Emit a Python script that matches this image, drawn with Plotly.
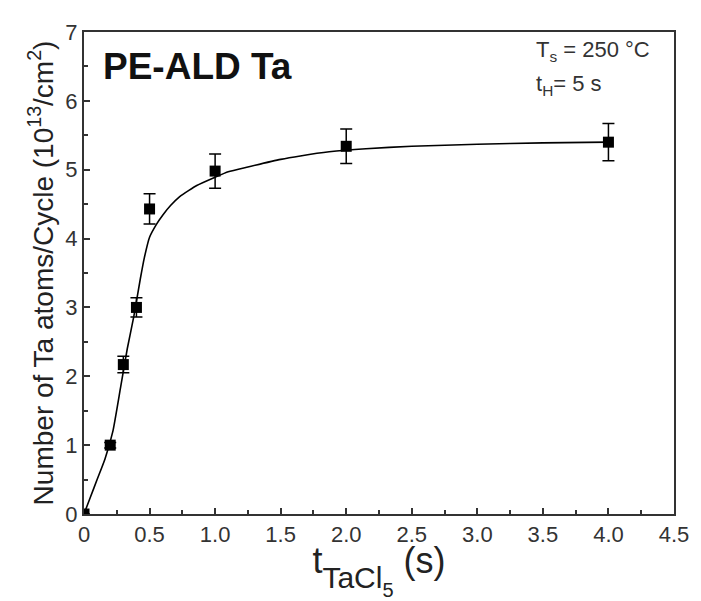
import plotly.graph_objects as go

# measured data
t_meas = [0, 0.2, 0.3, 0.4, 0.5, 1.0, 2.0, 4.0]
n_meas = [0, 1.0, 2.17, 3.0, 4.43, 4.98, 5.34, 5.40]
n_err = [0, 0.04, 0.12, 0.14, 0.22, 0.25, 0.25, 0.27]

# fitted curve
t_fit = [0, 0.05, 0.1, 0.16, 0.22, 0.28, 0.33, 0.38, 0.43, 0.46, 0.5, 0.55, 0.6, 0.66,
         0.73, 0.8, 0.86, 1.0, 1.1, 1.25, 1.5, 1.65, 1.87, 2.15, 2.5, 3.0, 3.5, 4.0]
n_fit = [0, 0.25, 0.5, 0.8, 1.2, 1.85, 2.4, 2.87, 3.42, 3.72, 4.02, 4.2, 4.34, 4.48,
         4.61, 4.7, 4.77, 4.89, 4.97, 5.04, 5.15, 5.2, 5.26, 5.305, 5.34, 5.37, 5.39, 5.4]

x_ticks = [0, 0.5, 1.0, 1.5, 2.0, 2.5, 3.0, 3.5, 4.0, 4.5]
x_ticklabels = ["0", "0.5", "1.0", "1.5", "2.0", "2.5", "3.0", "3.5", "4.0", "4.5"]

FONT = "Arial, Liberation Sans, sans-serif"
AX = "#333333"

fig = go.Figure()
fig.add_trace(go.Scatter(x=t_fit, y=n_fit, mode="lines",
                         line=dict(color="black", width=1.6, shape="spline", smoothing=0.5),
                         showlegend=False))
fig.add_trace(go.Scatter(x=t_meas, y=n_meas, mode="markers",
                         marker=dict(symbol="square", size=11, color="black"),
                         error_y=dict(type="data", array=n_err, color="black",
                                      thickness=1.5, width=6),
                         showlegend=False))

x_title = ("t<span style='font-size:30px;baseline-shift:-15px'>TaCl</span>"
           "<span style='font-size:20px;baseline-shift:-24px'>5</span> (s)")

fig.update_layout(
    width=693, height=593,
    margin=dict(l=76, r=25, t=16, b=87),
    paper_bgcolor="white", plot_bgcolor="white",
    font=dict(family=FONT, color=AX),
    xaxis=dict(range=[0, 4.5], tickvals=x_ticks, ticktext=x_ticklabels,
               ticks="inside", ticklen=6, tickwidth=2, tickcolor=AX,
               minor=dict(dtick=0.25, ticks="inside", ticklen=4, tickwidth=2, tickcolor=AX),
               showline=True, linecolor=AX, linewidth=2, mirror=True,
               showgrid=False, zeroline=False,
               tickfont=dict(size=22, color=AX),
               title=dict(text=x_title,
                          font=dict(size=36, color="#222222"), standoff=8)),
    yaxis=dict(range=[0, 7], dtick=1,
               ticks="inside", ticklen=6, tickwidth=2, tickcolor=AX,
               minor=dict(dtick=0.5, ticks="inside", ticklen=4, tickwidth=2, tickcolor=AX),
               showline=True, linecolor=AX, linewidth=2, mirror=True,
               showgrid=False, zeroline=False,
               tickfont=dict(size=22, color=AX),
               title=dict(text="Number of Ta atoms/Cycle (10<sup>13</sup>/cm<sup>2</sup>)",
                          font=dict(size=28, color="#222222"), standoff=4)),
)

fig.add_annotation(x=0.13, y=6.5, xref="x", yref="y", xanchor="left", yanchor="middle",
                   text="<b>PE-ALD Ta</b>", showarrow=False,
                   font=dict(size=37, color="#111111", family=FONT))
fig.add_annotation(x=3.43, y=6.73, xref="x", yref="y", xanchor="left", yanchor="middle",
                   text="T<sub>s</sub> = 250 °C", showarrow=False,
                   font=dict(size=22, color="#333333", family=FONT))
fig.add_annotation(x=3.43, y=6.23, xref="x", yref="y", xanchor="left", yanchor="middle",
                   text="t<sub>H</sub>= 5 s", showarrow=False,
                   font=dict(size=22, color="#333333", family=FONT))

fig.write_html("out.html")
